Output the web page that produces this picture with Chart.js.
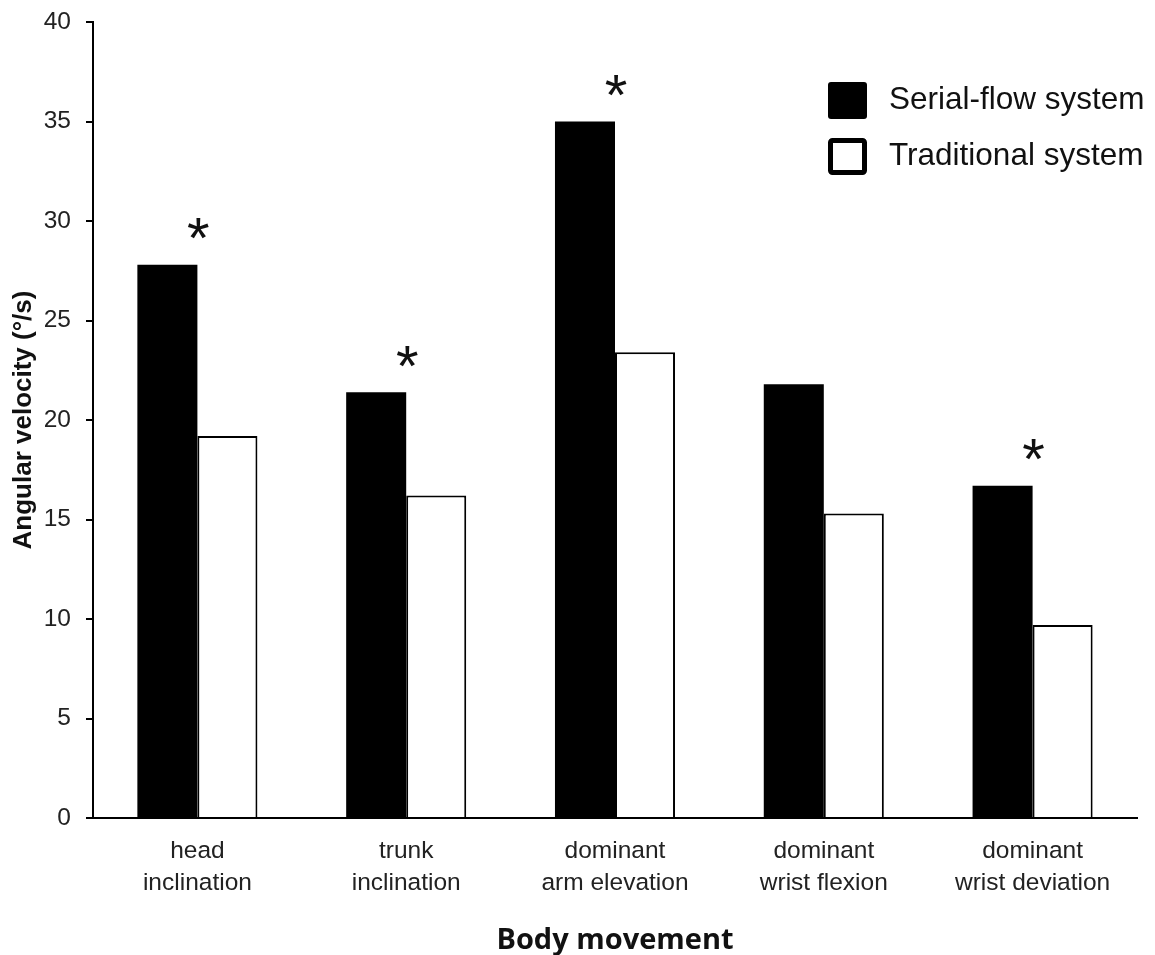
<!DOCTYPE html>
<html>
<head>
<meta charset="utf-8">
<script src="https://cdn.jsdelivr.net/npm/chart.js@4.4.1/dist/chart.umd.min.js"></script>
<style>
  html, body { margin: 0; padding: 0; background: #fff; }
  #wrap { width: 1155px; height: 955px; }
</style>
</head>
<body>
<div id="wrap"><canvas id="chart" width="1155" height="955"></canvas></div>
<script>
// values
const categories = [
  ['head', 'inclination'],
  ['trunk', 'inclination'],
  ['dominant', 'arm elevation'],
  ['dominant', 'wrist flexion'],
  ['dominant', 'wrist deviation'],
];
const serialFlow = [27.8, 21.4, 35.0, 21.8, 16.7];
const traditional = [19.2, 16.2, 23.4, 15.3, 9.7];
const significant = [true, true, true, false, true];
const yTicks = [0, 5, 10, 15, 20, 25, 30, 35, 40];

/* asterisks above the serial-flow bars */
const starPlugin = {
  id: 'stars',
  afterDatasetsDraw(chart) {
    const { ctx } = chart;
    const meta = chart.getDatasetMeta(0);
    ctx.save();
    ctx.fillStyle = '#111';
    ctx.font = '58px "Liberation Sans", Arial, sans-serif';
    ctx.textAlign = 'center';
    ctx.textBaseline = 'alphabetic';
    const m = ctx.measureText('*');
    const mid = (m.actualBoundingBoxAscent - m.actualBoundingBoxDescent) / 2;
    meta.data.forEach((bar, i) => {
      if (!significant[i]) return;
      const x = bar.x + bar.width / 2 + 1;
      const y = bar.y - 36;
      ctx.fillText('*', x, y + mid);
    });
    ctx.restore();
  }
};

/* legend in the top right corner */
const legendPlugin = {
  id: 'boxLegend',
  afterDraw(chart) {
    const { ctx } = chart;
    ctx.save();
    ctx.font = '31.5px "Liberation Sans", Arial, sans-serif';
    ctx.textBaseline = 'middle';
    ctx.textAlign = 'left';
    chart.data.datasets.forEach((ds, i) => {
      const top = 82 + i * 56;
      ctx.beginPath();
      if (i === 0) {
        ctx.fillStyle = '#000';
        ctx.roundRect(828, top, 39, 37, 3);
        ctx.fill();
      } else {
        ctx.fillStyle = '#fff';
        ctx.strokeStyle = '#000';
        ctx.lineWidth = 5;
        ctx.roundRect(830.5, top + 2.5, 34, 32, 2);
        ctx.fill();
        ctx.stroke();
      }
      ctx.fillStyle = '#111';
      ctx.fillText(ds.label, 889, top + 18);
    });
    ctx.restore();
  }
};

const tickFont = { family: '"Liberation Sans", Arial, sans-serif', size: 24.5, lineHeight: 1.31 };

new Chart(document.getElementById('chart'), {
  type: 'bar',
  data: {
    labels: categories,
    datasets: [
      { label: 'Serial-flow system', data: serialFlow, backgroundColor: '#000', borderWidth: 0 },
      { label: 'Traditional system', data: traditional, backgroundColor: '#fff', borderColor: '#000', borderWidth: 2 },
    ]
  },
  options: {
    responsive: false,
    animation: false,
    layout: { padding: { top: 22, right: 18, bottom: 0, left: 8 } },
    datasets: { bar: { categoryPercentage: 0.575, barPercentage: 1 } },
    plugins: { legend: { display: false }, tooltip: { enabled: false } },
    scales: {
      x: {
        grid: { display: false, drawTicks: false, tickLength: 0 },
        border: { display: true, color: '#000', width: 2 },
        ticks: { color: '#222', font: tickFont, padding: 17, maxRotation: 0, autoSkip: false },
        title: {
          display: true, text: 'Body movement', color: '#111',
          font: { family: '"Open Sans", sans-serif', size: 29, weight: '700', lineHeight: 1 },
          padding: 0
        },
        afterFit: (s) => { s.height = 137; }
      },
      y: {
        min: 0, max: 40,
        afterBuildTicks: (s) => { s.ticks = yTicks.map(v => ({ value: v })); },
        grid: { drawOnChartArea: false, drawTicks: true, tickLength: 7, color: '#000', lineWidth: 2 },
        border: { display: true, color: '#000', width: 2 },
        ticks: { color: '#222', font: { family: '"Liberation Sans", Arial, sans-serif', size: 24.5 }, padding: 15 },
        title: {
          display: true, text: 'Angular velocity (°/s)', color: '#111',
          font: { family: '"Liberation Sans", Arial, sans-serif', size: 26, weight: 'bold', lineHeight: 1.2 },
          padding: 0
        },
        afterFit: (s) => { s.width = 85; s.paddingTop = 0; s.paddingBottom = 0; }
      }
    }
  },
  plugins: [starPlugin, legendPlugin]
});
</script>
</body>
</html>
